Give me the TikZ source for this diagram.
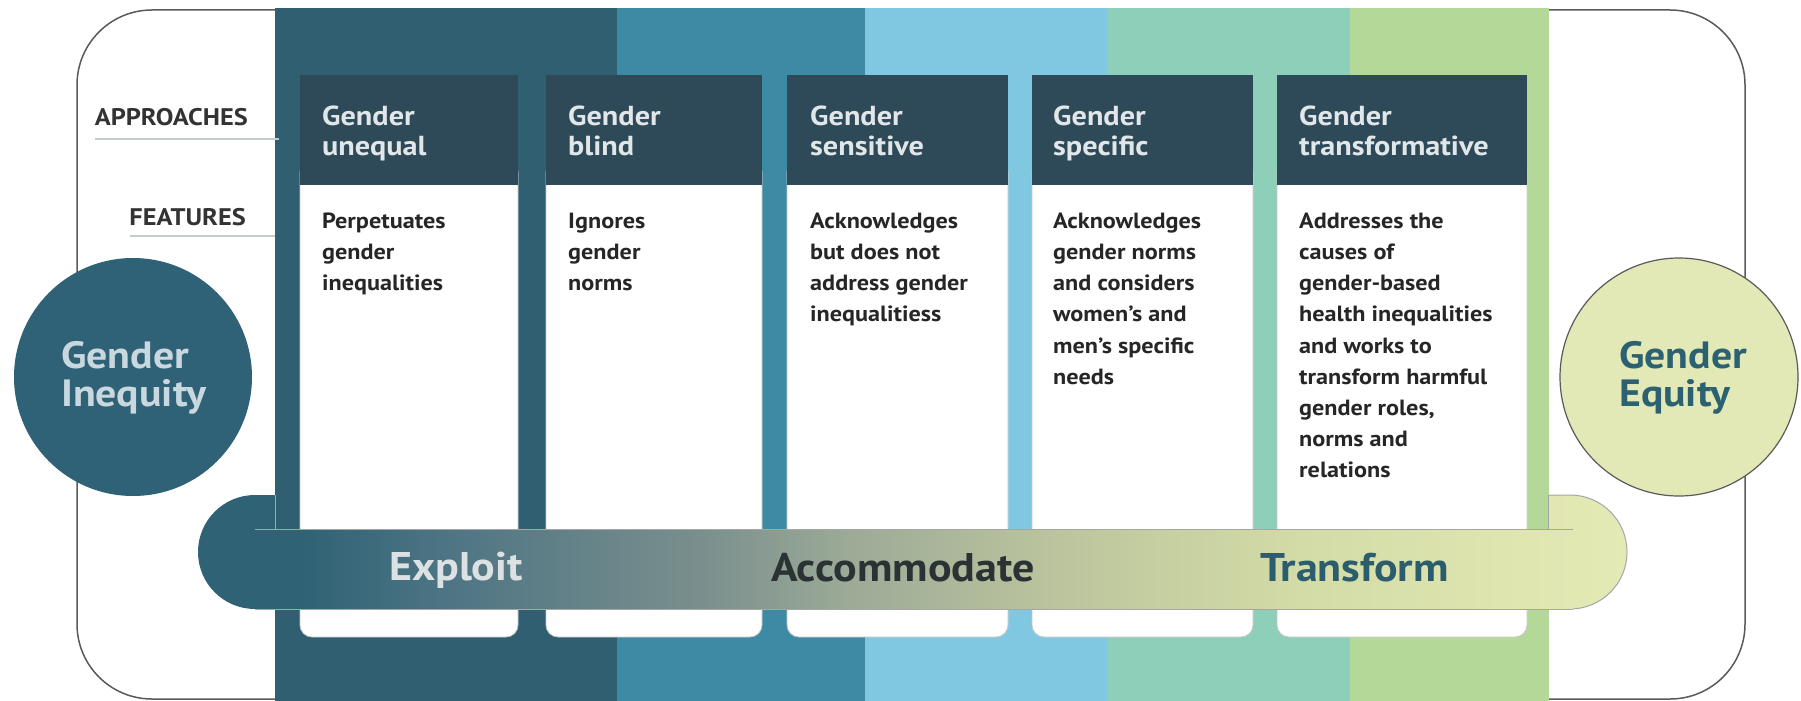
\documentclass[tikz,border=0pt]{standalone}
\usepackage{fontspec}
\setmainfont[FakeStretch=1.1]{PT Sans}
\definecolor{bandA}{HTML}{2F5F70}
\definecolor{bandB}{HTML}{3C8AA3}
\definecolor{bandC}{HTML}{80C8E1}
\definecolor{bandD}{HTML}{8ECFBA}
\definecolor{bandE}{HTML}{B4D898}
\definecolor{headc}{HTML}{2E4A58}
\definecolor{headtext}{HTML}{E1E6E9}
\definecolor{bodytext}{HTML}{262626}
\definecolor{circL}{HTML}{2F6276}
\definecolor{circLtext}{HTML}{C9D8DF}
\definecolor{circR}{HTML}{E2E9B6}
\definecolor{circRtext}{HTML}{2C6171}
\definecolor{framec}{HTML}{5A5A5A}
\definecolor{labeltext}{HTML}{333333}
\definecolor{ulinec}{HTML}{C5CACD}
\definecolor{exptext}{HTML}{DCE2E4}
\definecolor{acctext}{HTML}{2A3234}
\definecolor{trftext}{HTML}{2B5D6C}
\definecolor{gA}{HTML}{2F6275}
\definecolor{gB}{HTML}{4E7584}
\definecolor{gC}{HTML}{7A8F8D}
\definecolor{gD}{HTML}{9CAA97}
\definecolor{gE}{HTML}{B4BE9C}
\definecolor{gF}{HTML}{C5CEA0}
\definecolor{gG}{HTML}{D3DBA7}
\definecolor{gH}{HTML}{DEE5AF}
\definecolor{gI}{HTML}{E3EAB5}
\pgfdeclarehorizontalshading{barshade}{100bp}{color(0bp)=(gA); color(25bp)=(gA); color(28.6bp)=(gA); color(33.8bp)=(gB); color(42.6bp)=(gC); color(47.8bp)=(gD); color(53.1bp)=(gE); color(58.3bp)=(gF); color(63.6bp)=(gG); color(70.6bp)=(gH); color(75bp)=(gI); color(100bp)=(gI)}
\begin{document}
\begin{tikzpicture}[x=1pt,y=-1pt,
  hdr/.style={anchor=north west, inner sep=0pt, align=left, text=headtext, font=\fontsize{27.5}{30}\selectfont\bfseries},
  bdy/.style={anchor=north west, inner sep=0pt, align=left, text=bodytext, font=\fontsize{22}{31.2}\selectfont\bfseries},
  lab/.style={anchor=base east, inner sep=0pt, text=labeltext, font=\fontsize{24}{26}\selectfont\bfseries},
  ulinestyle/.style={draw=ulinec, line width=2pt},
  bartext/.style={anchor=base west, inner sep=0pt, font=\fontsize{40}{44}\selectfont\bfseries},
  circtext/.style={anchor=north west, inner sep=0pt, align=left, font=\fontsize{38}{38.5}\selectfont\bfseries},
  bodybox/.style={fill=white, draw=gray!45, line width=0.8pt, rounded corners=12pt},
  thinline/.style={draw=gray!70, line width=1pt}]
\useasboundingbox (0,0) rectangle (1801,701);
\fill[white] (0,0) rectangle (1801,701);
% outer frame
\draw[framec, line width=1.5pt, rounded corners=75pt] (77,10) rectangle (1745,699);
% pill behind
\shade[shading=barshade] [rounded corners=57pt] (198,495) rectangle (1627,609);
\draw[thinline, rounded corners=57pt] (1500,495) -- (1627,495) -- (1627,609) -- (1500,609);
% bands
\fill[bandA] (275,8) rectangle (617,701);
\fill[bandB] (617,8) rectangle (865,701);
\fill[bandC] (865,8) rectangle (1107,701);
\fill[bandD] (1107,8) rectangle (1350,701);
\fill[bandE] (1350,8) rectangle (1549,701);
\draw[thinline] (275,495) -- (275,529);
\draw[thinline] (1548,495) -- (1548,529);
% cards
\foreach \l/\r in {300/518, 546/762, 787/1008, 1032/1253, 1277/1527}{
  \path[bodybox] (\l,160) rectangle (\r,637);
  \fill[headc] (\l,75) rectangle (\r,185);
}
% bar over cards
\begin{scope}
  \clip (255,529) rectangle (1573,609);
  \shade[shading=barshade] [rounded corners=57pt] (198,495) rectangle (1627,609);
\end{scope}
\draw[thinline] (255,529) -- (1573,529);
\draw[thinline] (255,609) -- (1573,609);
% headers
\node[hdr] (h1) at (322,105) {\rule{0pt}{20pt}Gender\\unequal};
\node[hdr] (h2) at (568,105) {\rule{0pt}{20pt}Gender\\blind};
\node[hdr] (h3) at (810,105) {\rule{0pt}{20pt}Gender\\sensitive};
\node[hdr] (h4) at (1053,105) {\rule{0pt}{20pt}Gender\\specific};
\node[hdr] (h5) at (1299,105) {\rule{0pt}{20pt}Gender\\transformative};
% bodies
\node[bdy] (b1) at (322,211) {\rule{0pt}{17pt}Perpetuates\\gender\\inequalities};
\node[bdy] (b2) at (568,211) {\rule{0pt}{17pt}Ignores\\gender\\norms};
\node[bdy] (b3) at (810,211) {\rule{0pt}{17pt}Acknowledges\\but does not\\address gender\\inequalitiess};
\node[bdy] (b4) at (1053,211) {\rule{0pt}{17pt}Acknowledges\\gender norms\\and considers\\women’s and\\men’s specific\\needs};
\node[bdy] (b5) at (1299,211) {\rule{0pt}{17pt}Addresses the\\causes of\\gender-based\\health inequalities\\and works to\\transform harmful\\gender roles,\\norms and\\relations};
% left labels
\node[lab] (appr) at (248,125) {APPROACHES};
\node[lab] (feat) at (246,225) {FEATURES};
\coordinate (apprA) at (95,139);
\coordinate (apprB) at (279,139);
\coordinate (featA) at (130,236);
\coordinate (featB) at (275,236);
\draw[ulinestyle] (apprA) -- (apprB);
\draw[ulinestyle] (featA) -- (featB);
% bar texts
\node[bartext, text=exptext] (exploit) at (389,580) {Exploit};
\node[bartext, text=acctext] (accom) at (771,581) {Accommodate};
\node[bartext, text=trftext] (transf) at (1260,581) {Transform};
% circles
\node[circle, fill=circL, minimum size=238pt, inner sep=0pt] (inequity) at (133,377) {};
\node[circle, fill=circR, draw=framec, line width=1.2pt, minimum size=238pt, inner sep=0pt] (equity) at (1679,377) {};
\node[circtext, text=circLtext] (inequityT) at (61,339) {\rule{0pt}{29pt}Gender\\Inequity};
\node[circtext, text=circRtext] (equityT) at (1619,339) {\rule{0pt}{29pt}Gender\\Equity};
\end{tikzpicture}
\end{document}
